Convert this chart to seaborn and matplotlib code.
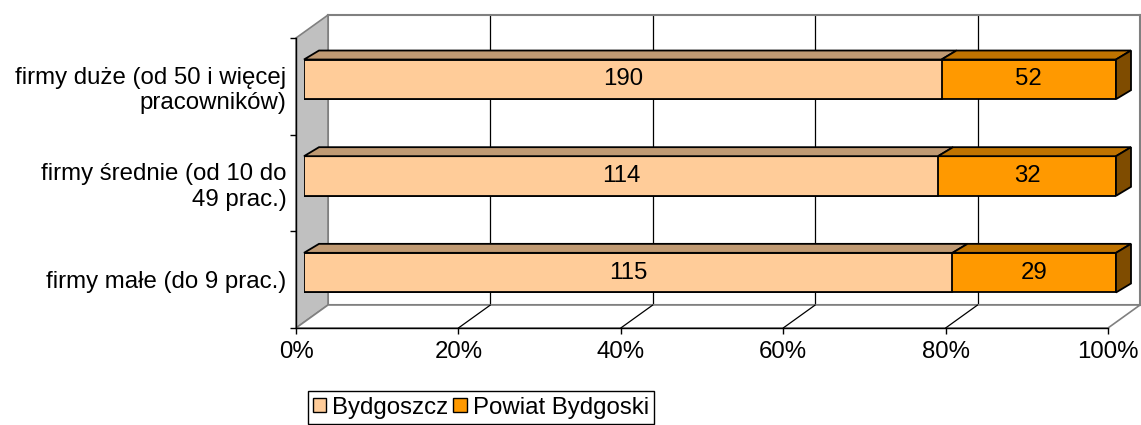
import numpy as np
import pandas as pd
import matplotlib
matplotlib.use("Agg")
import matplotlib.pyplot as plt
import seaborn as sns
from matplotlib.patches import Polygon, Patch

# ---------------- data ----------------
categories = ["firmy duże (od 50 i więcej\npracowników)",
              "firmy średnie (od 10 do\n49 prac.)",
              "firmy małe (do 9 prac.)"]
bydgoszcz = [190, 114, 115]
powiat = [52, 32, 29]
series_names = ["Bydgoszcz", "Powiat Bydgoski"]
xticks = [0, 20, 40, 60, 80, 100]
xticklabels = ["0%", "20%", "40%", "60%", "80%", "100%"]

# ---------------- style ----------------
sns.set_theme(style="white")
plt.rcParams["font.family"] = ["Liberation Sans", "DejaVu Sans"]
plt.rcParams["text.color"] = "black"
plt.rcParams["xtick.color"] = "black"
plt.rcParams["ytick.color"] = "black"
plt.rcParams["xtick.labelcolor"] = "black"
plt.rcParams["ytick.labelcolor"] = "black"
FS = 17.3
C_BYD = "#FFCC99"
C_POW = "#FF9900"
TOP_BYD = "#C09A73"
TOP_POW = "#C07300"
SIDE_POW = "#7F4C00"
GRAY = "#808080"

W, H = 1141, 425
fig = plt.figure(figsize=(W / 100, H / 100), dpi=100)


def rect(x0, y0, w, h):
    return [x0 / W, 1 - (y0 + h) / H, w / W, h / H]


PW, PH = 812, 290          # plane size in px
FX, FY = 296, 38           # front plane top-left (px)
BACK = (32, -23)           # back plane offset (px)
BAR = (8, -7)              # bar front face offset (px)
DEPTH = (15, -9)           # bar depth (px)

sx = 100 / PW              # data units per px (x)
sy = 3 / PH                # data units per px (y, downwards positive)

axb = fig.add_axes(rect(FX + BACK[0], FY + BACK[1], PW, PH), zorder=0)
axf = fig.add_axes(rect(FX, FY, PW, PH), zorder=1)
ax = fig.add_axes(rect(FX + BAR[0], FY + BAR[1], PW, PH), zorder=2)

for a in (axb, axf, ax):
    a.set_xlim(0, 100)
    a.set_ylim(2.5, -0.5)

# ---------------- back wall ----------------
axb.set_facecolor("white")
for s in axb.spines.values():
    s.set_color(GRAY)
    s.set_linewidth(1.5)
for xv in xticks[1:-1]:
    axb.axvline(xv, color="black", lw=0.9)
axb.set_xticks([])
axb.set_yticks([])

# ---------------- front plane: walls, floor, axes ----------------
axf.patch.set_alpha(0)
bx, by = BACK[0] * sx, BACK[1] * sy
left_wall = Polygon([(0, -0.5), (bx, -0.5 + by), (bx, 2.5 + by), (0, 2.5)],
                    closed=True, facecolor="#C0C0C0", edgecolor=GRAY, lw=1.2,
                    clip_on=False, zorder=0)
axf.add_patch(left_wall)
floor = Polygon([(0, 2.5), (bx, 2.5 + by), (100 + bx, 2.5 + by), (100, 2.5)],
                closed=True, facecolor="white", edgecolor=GRAY, lw=1.2,
                clip_on=False, zorder=0)
axf.add_patch(floor)
for xv in xticks[1:-1]:
    axf.plot([xv, xv + bx], [2.5, 2.5 + by], color="black", lw=0.9,
             clip_on=False, zorder=0.5)

for k in ("top", "right"):
    axf.spines[k].set_visible(False)
for k in ("left", "bottom"):
    axf.spines[k].set_color("black")
    axf.spines[k].set_linewidth(1.0)

axf.set_xticks(xticks)
axf.set_xticklabels(xticklabels, fontsize=FS, color="black")
axf.set_yticks(range(len(categories)))
axf.set_yticklabels(categories, fontsize=FS, ha="right",
                    multialignment="right", color="black")
axf.set_yticks([-0.5, 0.5, 1.5, 2.5], minor=True)
axf.tick_params(axis="x", which="major", direction="out", length=4.5,
                width=1, color="black", pad=5, bottom=True)
axf.tick_params(axis="y", which="major", length=0, pad=7, left=True)
axf.tick_params(axis="y", which="minor", direction="out", length=4.5,
                width=1, color="black", left=True)
axf.set_xlabel("")
axf.set_ylabel("")

# ---------------- bars ----------------
ax.patch.set_alpha(0)
for s in ax.spines.values():
    s.set_visible(False)

totals = [b + p for b, p in zip(bydgoszcz, powiat)]
df = pd.DataFrame({
    "cat": categories,
    "byd_pct": [100 * b / t for b, t in zip(bydgoszcz, totals)],
    "tot_pct": [100.0 for _ in totals],
})
bh = 0.41
sns.barplot(data=df, y="cat", x="tot_pct", color=C_POW, orient="h",
            width=bh, edgecolor="black", linewidth=1.3, saturation=1, ax=ax)
sns.barplot(data=df, y="cat", x="byd_pct", color=C_BYD, orient="h",
            width=bh, edgecolor="black", linewidth=1.3, saturation=1, ax=ax)
ax.set_xlim(0, 100)
ax.set_ylim(2.5, -0.5)
ax.set_xticks([])
ax.set_yticks([])
ax.set_xlabel("")
ax.set_ylabel("")

dx, dy = DEPTH[0] * sx, DEPTH[1] * sy
for i in range(len(categories)):
    ytop = i - bh / 2
    ybot = i + bh / 2
    xb = df["byd_pct"][i]
    for x0, x1, c in ((0, xb, TOP_BYD), (xb, 100, TOP_POW)):
        ax.add_patch(Polygon([(x0, ytop), (x1, ytop), (x1 + dx, ytop + dy),
                              (x0 + dx, ytop + dy)], closed=True,
                             facecolor=c, edgecolor="black", lw=1.3,
                             clip_on=False, zorder=3))
    ax.add_patch(Polygon([(100, ytop), (100, ybot), (100 + dx, ybot + dy),
                          (100 + dx, ytop + dy)], closed=True,
                         facecolor=SIDE_POW, edgecolor="black", lw=1.3,
                         clip_on=False, zorder=3))
    ax.text(xb / 2, i, str(bydgoszcz[i]), ha="center", va="center",
            fontsize=FS, color="black", zorder=4)
    ax.text((xb + 100) / 2, i, str(powiat[i]), ha="center", va="center",
            fontsize=FS, color="black", zorder=4)

# ---------------- legend ----------------
handles = [Patch(facecolor=C_BYD, edgecolor="black", lw=1),
           Patch(facecolor=C_POW, edgecolor="black", lw=1)]
leg = fig.legend(handles, series_names, loc="lower center",
                 bbox_to_anchor=(481 / W, 0.0), ncol=2, fontsize=FS,
                 frameon=True, fancybox=False, edgecolor="black",
                 framealpha=1, handlelength=0.55, handleheight=0.55,
                 handletextpad=0.25, columnspacing=0.2, borderpad=0.22,
                 borderaxespad=0.05)
leg.get_frame().set_linewidth(1.0)
for t in leg.get_texts():
    t.set_color("black")

fig.savefig("out.png", dpi=100)
